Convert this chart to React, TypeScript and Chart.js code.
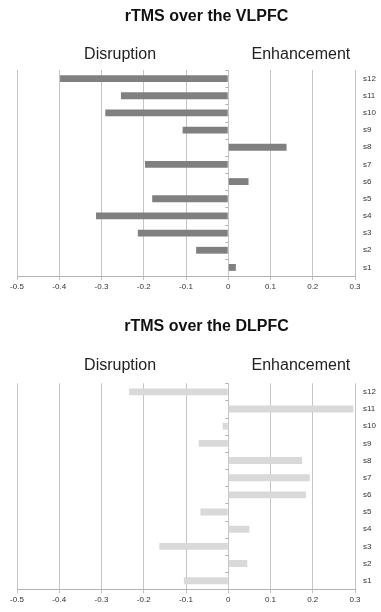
import React, { useEffect, useRef } from "react";
import { Chart, registerables } from "chart.js";

Chart.register(...registerables);

// ---------- data ----------
const subjects = ["s1", "s2", "s3", "s4", "s5", "s6", "s7", "s8", "s9", "s10", "s11", "s12"];
const vlpfcValues = [0.018, -0.076, -0.214, -0.313, -0.18, 0.048, -0.197, 0.138, -0.108, -0.291, -0.254, -0.398];
const dlpfcValues = [-0.105, 0.045, -0.163, 0.05, -0.066, 0.184, 0.193, 0.175, -0.07, -0.013, 0.296, -0.235];
const vlpfcTitle = "rTMS over the VLPFC";
const dlpfcTitle = "rTMS over the DLPFC";
const sideLabels = ["Disruption", "Enhancement"];
const xMin = -0.5;
const xMax = 0.3;
const xStep = 0.1;

const FONT = "'Liberation Sans', Arial, Helvetica, sans-serif";

type PanelProps = {
  title: string;
  values: number[];
  color: string;
  top: number;
  height: number;
  areaTop: number;
  titleY: number;
  xAxisHeight: number;
  labelOffset: number;
};

const headerPlugin = {
  id: "header",
  afterDraw(chart: any, _args: any, opts: any) {
    const ctx = chart.ctx;
    const xs = chart.scales.x;
    const y = chart.chartArea.top - opts.offset;
    ctx.save();
    ctx.fillStyle = "#111";
    ctx.textAlign = "center";
    ctx.textBaseline = "middle";
    ctx.font = `bold 16px ${FONT}`;
    ctx.fillText(opts.title, 206.5, opts.titleY);
    ctx.fillStyle = "#222";
    ctx.font = `16px ${FONT}`;
    ctx.fillText(sideLabels[0], xs.getPixelForValue(-0.256), y);
    ctx.fillText(sideLabels[1], xs.getPixelForValue(0.172), y);
    ctx.restore();
  },
};

const zeroTicksPlugin = {
  id: "zeroTicks",
  afterDatasetsDraw(chart: any) {
    const ctx = chart.ctx;
    const x0 = chart.scales.x.getPixelForValue(0);
    const ys = chart.scales.y;
    ctx.save();
    ctx.strokeStyle = "#b4b4b4";
    ctx.lineWidth = 1;
    ctx.beginPath();
    for (let i = 0; i <= subjects.length; i++) {
      const y = Math.round(ys.getPixelForValue(i - 0.5)) + 0.5;
      ctx.moveTo(x0 - 3, y);
      ctx.lineTo(x0, y);
    }
    ctx.stroke();
    ctx.restore();
  },
};

function BarPanel(p: PanelProps) {
  const ref = useRef<HTMLCanvasElement | null>(null);
  useEffect(() => {
    if (!ref.current) return;
    const chart = new Chart(ref.current, {
      type: "bar",
      data: {
        labels: subjects,
        datasets: [
          {
            data: p.values,
            backgroundColor: p.color,
            borderWidth: 0,
            barPercentage: 0.4,
            categoryPercentage: 1,
          },
        ],
      },
      options: {
        indexAxis: "y",
        animation: false,
        responsive: false,
        maintainAspectRatio: false,
        layout: { padding: { left: 17, right: 0, top: p.areaTop, bottom: 0 } },
        plugins: {
          legend: { display: false },
          tooltip: { enabled: false },
          title: { display: false },
          header: { offset: p.labelOffset, title: p.title, titleY: p.titleY },
        } as any,
        scales: {
          x: {
            type: "linear",
            min: xMin,
            max: xMax,
            ticks: {
              stepSize: xStep,
              font: { family: FONT, size: 8 },
              color: "#333",
              padding: 2,
              maxRotation: 0,
            },
            grid: { color: "#c4c4c4", tickLength: 4, drawTicks: true },
            border: { color: "#b4b4b4" },
            afterFit: (s: any) => {
              s.height = p.xAxisHeight;
            },
          },
          y: {
            position: "right",
            reverse: true,
            grid: { display: false, drawTicks: false },
            border: { display: false },
            ticks: {
              padding: 8,
              font: { family: FONT, size: 8 },
              color: "#333",
            },
            afterFit: (s: any) => {
              s.width = 26;
            },
          },
        },
      } as any,
      plugins: [headerPlugin, zeroTicksPlugin],
    });
    return () => chart.destroy();
  }, []);
  return (
    <canvas
      ref={ref}
      width={381}
      height={p.height}
      style={{ position: "absolute", left: 0, top: p.top, width: 381, height: p.height }}
    />
  );
}

export default function App() {
  return (
    <div style={{ position: "absolute", left: 0, top: 0, width: 381, height: 612, background: "#fff" }}>
      <BarPanel
        title={vlpfcTitle}
        values={vlpfcValues}
        color="#808080"
        top={0}
        height={306}
        areaTop={70}
        titleY={16.7}
        xAxisHeight={30}
        labelOffset={15}
      />
      <BarPanel
        title={dlpfcTitle}
        values={dlpfcValues}
        color="#d9d9d9"
        top={306}
        height={306}
        areaTop={77.3}
        titleY={20.7}
        xAxisHeight={22.7}
        labelOffset={17.3}
      />
    </div>
  );
}
